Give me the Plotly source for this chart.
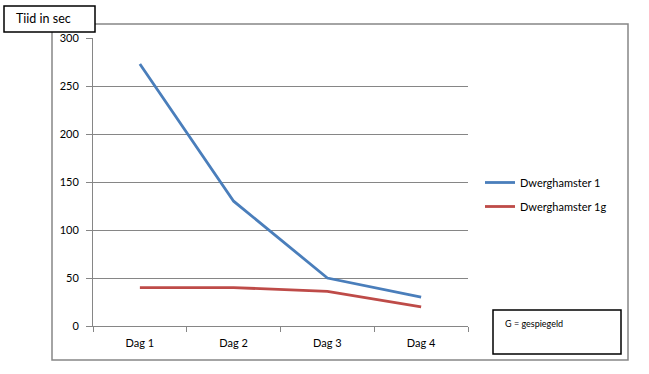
import plotly.graph_objects as go

categories = ["Dag 1", "Dag 2", "Dag 3", "Dag 4"]
series1_name = "Dwerghamster 1"
series1_values = [273, 130, 50, 30]
series2_name = "Dwerghamster 1g"
series2_values = [40, 40, 36, 20]
y_ticks = [0, 50, 100, 150, 200, 250, 300]
y_title = "Tiid in sec"
note_text = "G = gespiegeld"

FONT = "Lato, Carlito, Calibri, 'Noto Sans', sans-serif"
W, H = 649, 374
L, R, T, B = 93, 468, 38, 326

def px(x):
    return (x - L) / (R - L)

def py(y):
    return (B - y) / (B - T)

fig = go.Figure()
fig.add_trace(go.Scatter(x=categories, y=series1_values, mode="lines", name=series1_name,
                         line=dict(color="#4A7EBB", width=2.8), legendgroup="a"))
fig.add_trace(go.Scatter(x=categories, y=series2_values, mode="lines", name=series2_name,
                         line=dict(color="#BE4B48", width=2.8), legendgroup="b"))

shapes = [
    dict(type="rect", xref="paper", yref="paper", x0=px(52), x1=px(628), y0=py(360), y1=py(24),
         line=dict(color="#868686", width=1.5), layer="below"),
    dict(type="rect", xref="paper", yref="paper", x0=px(4), x1=px(95), y0=py(32), y1=py(6),
         line=dict(color="black", width=1.5), fillcolor="white"),
    dict(type="rect", xref="paper", yref="paper", x0=px(493), x1=px(621), y0=py(354), y1=py(310),
         line=dict(color="black", width=1.5), fillcolor="white"),
]

annotations = [
    dict(text=y_title, xref="paper", yref="paper", x=px(14), y=py(19), xanchor="left", yanchor="middle",
         showarrow=False, font=dict(family=FONT, size=12.5, color="black")),
    dict(text=note_text, xref="paper", yref="paper", x=px(503), y=py(323), xanchor="left", yanchor="middle",
         showarrow=False, font=dict(family=FONT, size=9, color="black")),
]

fig.update_layout(
    width=W, height=H,
    margin=dict(l=L, r=W - R, t=T, b=H - B, pad=0),
    paper_bgcolor="white", plot_bgcolor="white",
    font=dict(family=FONT, size=11, color="black"),
    showlegend=True,
    legend=dict(x=px(480), y=py(168), xanchor="left", yanchor="top",
                font=dict(family=FONT, size=11, color="black"),
                tracegroupgap=5, itemwidth=30, bgcolor="rgba(0,0,0,0)"),
    shapes=shapes, annotations=annotations,
    xaxis=dict(type="category", range=[-0.5, 3.5], showgrid=False,
               showline=True, linecolor="#868686", linewidth=1,
               ticks="outside", tickson="boundaries", ticklen=5, tickcolor="#868686",
               ticklabelstandoff=7,
               tickfont=dict(family=FONT, size=11, color="black"), fixedrange=True),
    yaxis=dict(range=[0, 300], tickvals=y_ticks, showgrid=True, gridcolor="#868686", gridwidth=1,
               showline=True, linecolor="#868686", linewidth=1, zeroline=False,
               ticks="outside", ticklen=6, tickcolor="#868686",
               ticklabelstandoff=5,
               tickfont=dict(family=FONT, size=11, color="black"), fixedrange=True),
)

fig.write_html("out.html", config={"displayModeBar": False},
               post_script="document.body.style.margin='0px';document.body.style.overflow='hidden';")
